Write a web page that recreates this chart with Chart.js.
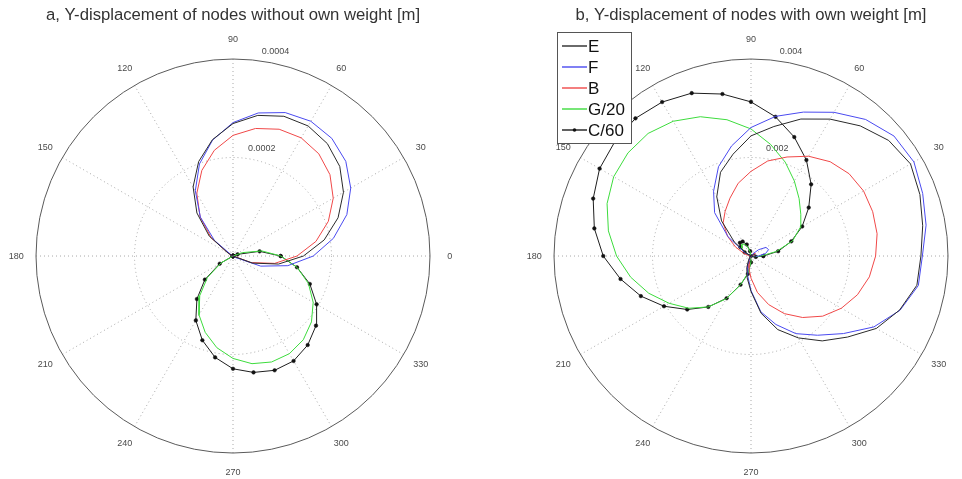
<!DOCTYPE html>
<html><head><meta charset="utf-8">
<script src="https://cdn.jsdelivr.net/npm/chart.js@4/dist/chart.umd.min.js"></script>
<style>
html,body{margin:0;padding:0;background:#fff;}
#wrap{position:relative;width:962px;height:479px;overflow:hidden;}
.box{position:absolute;top:0;width:481px;height:479px;}
</style></head><body>
<div id="wrap">
  <div class="box" style="left:0"><canvas id="cA"></canvas></div>
  <div class="box" style="left:481px"><canvas id="cB"></canvas></div>
</div>
<script>
// ---------- data (angles in degrees, radius in metres) ----------
const angleDeg = [0,10,20,30,40,50,60,70,80,90,100,110,120,130,140,150,160,170,
                  180,190,200,210,220,230,240,250,260,270,280,290,300,310,320,330,340,350];
const angleTicks = [0,30,60,90,120,150,180,210,240,270,300,330];
const seriesNames = ['E','F','B','G/20','C/60'];

// a) without own weight
const leftE = [0.000143,0.000188,0.000227,0.000259,0.000283,0.000298,0.000305,0.000302,0.000290,0.000269,
  0.000240,0.000204,0.000162,0.000114,0.000063,0.000011,0,0,0,0,0,0,0,0,0,0,0,0,0,0,0,0,0,0,0.000042,0.000094];
const leftF = [0.000163,0.000207,0.000246,0.000276,0.000299,0.000312,0.000316,0.000310,0.000295,0.000271,
  0.000239,0.000199,0.000153,0.000103,0.000049,0.000003,0,0,0,0,0,0,0,0,0,0,0,0,0,0,0,0,0,0.000006,0.000060,0.000113];
const leftB = [0.000130,0.000171,0.000206,0.000235,0.000257,0.000271,0.000277,0.000274,0.000263,0.000245,
  0.000218,0.000185,0.000147,0.000104,0.000058,0.000010,0,0,0,0,0,0,0,0,0,0,0,0,0,0,0,0,0,0,0.000039,0.000086];
const leftG20 = [0.0000972,0.0000595,0.0000200,0,0,0,0,0,0,0,0,0,0,0,0,0,0,0,0,0,0,
  0.000028,0.000068,0.000105,0.000138,0.000165,0.000189,0.000208,0.000222,0.000229,0.000229,0.000222,0.000208,0.000188,0.000163,0.000132];
const leftC60 = [0.0000968,0.0000548,0.0000100,0,0,0,0,0,0,0,0,0,0,0,0,0,0,0,0,0,0,
  0.0000311,0.0000745,0.000114,0.000151,0.000182,0.000209,0.000229,0.000240,0.000247,0.000246,0.000236,0.000220,0.000196,0.000166,0.000132];
const leftRingTicks = [0.0002, 0.0004];
const leftRingLabels = ['0.0002', '0.0004'];

// b) with own weight
const rightE = [0.00345,0.00354,0.00365,0.00374,0.00365,0.00345,0.00321,0.00296,0.00267,0.00244,
  0.00210,0.00181,0.00139,0.00093,0.00044,0.00010,-0.00005,-0.00008,-0.00010,-0.00010,-0.00008,-0.00005,0.00000,
  0.00005,0.00010,0.00025,0.00045,0.00072,0.00118,0.00159,0.00192,0.00225,0.00256,0.00294,0.00321,0.00342];
const rightF = [0.00348,0.00361,0.00371,0.00382,0.00379,0.00362,0.00337,0.00311,0.00288,0.00261,
  0.00227,0.00193,0.00152,0.00115,0.00061,0.00015,0.00000,-0.00005,-0.00015,-0.00030,-0.00038,-0.00035,-0.00020,-0.00005,
  0.00005,0.00020,0.00040,0.00070,0.00115,0.00148,0.00182,0.00210,0.00245,0.00288,0.00322,0.00345];
const rightB = [0.00253,0.00260,0.00263,0.00264,0.00260,0.00250,0.00234,0.00214,0.00196,0.00172,
  0.00150,0.00125,0.00105,0.00088,0.00062,0.00036,0.00015,0.00004,0.00000,-0.00003,-0.00008,-0.00010,-0.00008,-0.00003,
  0.00003,0.00012,0.00025,0.00045,0.00075,0.00105,0.00135,0.00163,0.00190,0.00212,0.00230,0.00244];
const rightG20 = [0.00020,0.00052,0.00090,0.00115,0.00132,0.00152,0.00176,0.00203,0.00230,0.00258,
  0.00281,0.00301,0.00316,0.00325,0.00326,0.00322,0.00311,0.00294,0.00273,0.00248,0.00221,0.00192,0.00165,0.00135,
  0.00100,0.00062,0.00035,0.00012,-0.00008,-0.00020,-0.00028,-0.00030,-0.00024,-0.00012,0.00000,0.00008];
const rightC60 = [0.00025,0.00056,0.00087,0.00120,0.00153,0.00190,0.00225,0.00257,0.00287,0.00313,
  0.00334,0.00352,0.00361,0.00365,0.00361,0.00355,0.00341,0.00323,0.00300,0.00269,0.00238,0.00204,0.00169,0.00135,
  0.00099,0.00062,0.00037,0.00013,-0.00010,-0.00025,-0.00034,-0.00035,-0.00028,-0.00015,0.00000,0.00010];
const rightRingTicks = [0.002, 0.004];
const rightRingLabels = ['0.002', '0.004'];

const titleA = 'a, Y-displacement of nodes without own weight [m]';
const titleB = 'b, Y-displacement of nodes with own weight [m]';

// ---------- helpers ----------
const FONT = "'Liberation Sans', Arial, sans-serif";
const colors = ['#2a2a2a', '#4a4af0', '#f04848', '#3ddc3d', '#1e1e1e'];

function polarPoints(r) {
  const pts = angleDeg.map((a, i) => {
    const t = a * Math.PI / 180;
    return { x: r[i] * Math.cos(t), y: r[i] * Math.sin(t) };
  });
  pts.push({ x: pts[0].x, y: pts[0].y });
  return pts;
}

function makeDatasets(list) {
  return list.map((r, i) => ({
    label: seriesNames[i],
    data: polarPoints(r),
    showLine: true,
    borderColor: colors[i],
    backgroundColor: colors[i],
    borderWidth: 1,
    tension: 0,
    pointRadius: i === 4 ? 1.8 : 0,
    pointHoverRadius: 0,
    pointStyle: 'circle',
    pointBackgroundColor: '#111',
    pointBorderColor: '#111',
    pointBorderWidth: 0.5,
    clip: false
  }));
}

const polarGrid = {
  id: 'polarGrid',
  beforeDatasetsDraw(chart, args, opts) {
    const ctx = chart.ctx, sx = chart.scales.x, sy = chart.scales.y;
    const cx = sx.getPixelForValue(0), cy = sy.getPixelForValue(0);
    const R = sx.getPixelForValue(opts.rmax) - cx;
    ctx.save();
    ctx.strokeStyle = '#a8a8a8';
    ctx.lineWidth = 1;
    ctx.setLineDash([1, 3]);
    opts.ticks.forEach(v => {
      if (v >= opts.rmax) return;
      const rr = sx.getPixelForValue(v) - cx;
      ctx.beginPath(); ctx.arc(cx, cy, rr, 0, Math.PI * 2); ctx.stroke();
    });
    angleTicks.forEach(a => {
      const t = a * Math.PI / 180;
      ctx.beginPath();
      ctx.moveTo(cx, cy);
      ctx.lineTo(cx + R * Math.cos(t), cy - R * Math.sin(t));
      ctx.stroke();
    });
    ctx.setLineDash([]);
    ctx.strokeStyle = '#5a5a5a';
    ctx.beginPath(); ctx.arc(cx, cy, R, 0, Math.PI * 2); ctx.stroke();
    ctx.fillStyle = '#4a4a4a';
    ctx.font = '9px ' + FONT;
    ctx.textAlign = 'center'; ctx.textBaseline = 'middle';
    angleTicks.forEach(a => {
      const t = a * Math.PI / 180;
      ctx.fillText(String(a), cx + 1.1 * R * Math.cos(t), cy - 1.1 * R * Math.sin(t));
    });
    ctx.textAlign = 'left';
    const t82 = 82 * Math.PI / 180;
    opts.ticks.forEach((v, i) => {
      const rr = sx.getPixelForValue(v) - cx + 0.05 * R;
      ctx.fillText(opts.labels[i], cx + rr * Math.cos(t82), cy - rr * Math.sin(t82));
    });
    ctx.restore();
  }
};

const boxLegend = {
  id: 'boxLegend',
  afterDatasetsDraw(chart, args, opts) {
    if (!opts.show) return;
    const ctx = chart.ctx;
    ctx.save();
    ctx.fillStyle = '#fff';
    ctx.strokeStyle = '#555';
    ctx.lineWidth = 1;
    ctx.fillRect(opts.x, opts.y, opts.w, opts.h);
    ctx.strokeRect(opts.x + 0.5, opts.y + 0.5, opts.w, opts.h);
    ctx.font = '17px ' + FONT;
    ctx.textBaseline = 'middle';
    ctx.textAlign = 'left';
    chart.data.datasets.forEach((ds, i) => {
      const yy = Math.round(opts.y + 14 + i * 21);
      ctx.strokeStyle = ds.borderColor;
      ctx.lineWidth = 1.4;
      ctx.beginPath(); ctx.moveTo(opts.x + 5, yy); ctx.lineTo(opts.x + 30, yy); ctx.stroke();
      if (ds.pointRadius > 0) {
        ctx.fillStyle = '#111';
        ctx.beginPath(); ctx.arc(opts.x + 17.5, yy, 1.8, 0, Math.PI * 2); ctx.fill();
      }
      ctx.fillStyle = '#111';
      ctx.fillText(ds.label, opts.x + 31, yy + 1);
    });
    ctx.restore();
  }
};

function makeChart(id, title, list, rmax, ticks, labels, padL, padR, legendOpts) {
  return new Chart(document.getElementById(id), {
    type: 'scatter',
    data: { datasets: makeDatasets(list) },
    options: {
      responsive: true,
      maintainAspectRatio: false,
      animation: false,
      devicePixelRatio: 1,
      layout: { padding: { left: padL, right: padR, top: 0, bottom: 26 } },
      scales: {
        x: { type: 'linear', min: -rmax, max: rmax, display: false },
        y: { type: 'linear', min: -rmax, max: rmax, display: false }
      },
      plugins: {
        legend: { display: false },
        tooltip: { enabled: false },
        title: {
          display: true, text: title, color: '#333',
          font: { family: FONT, size: 16.7, weight: 'normal', lineHeight: 1.2 },
          padding: { top: 5, bottom: 34 }
        },
        polarGrid: { rmax: rmax, ticks: ticks, labels: labels },
        boxLegend: legendOpts
      }
    },
    plugins: [polarGrid, boxLegend]
  });
}

makeChart('cA', titleA, [leftE, leftF, leftB, leftG20, leftC60], 0.0004,
          leftRingTicks, leftRingLabels, 36, 51, { show: false });
makeChart('cB', titleB, [rightE, rightF, rightB, rightG20, rightC60], 0.004,
          rightRingTicks, rightRingLabels, 73, 14, { show: true, x: 76, y: 32, w: 74, h: 111 });
</script>
</body></html>
